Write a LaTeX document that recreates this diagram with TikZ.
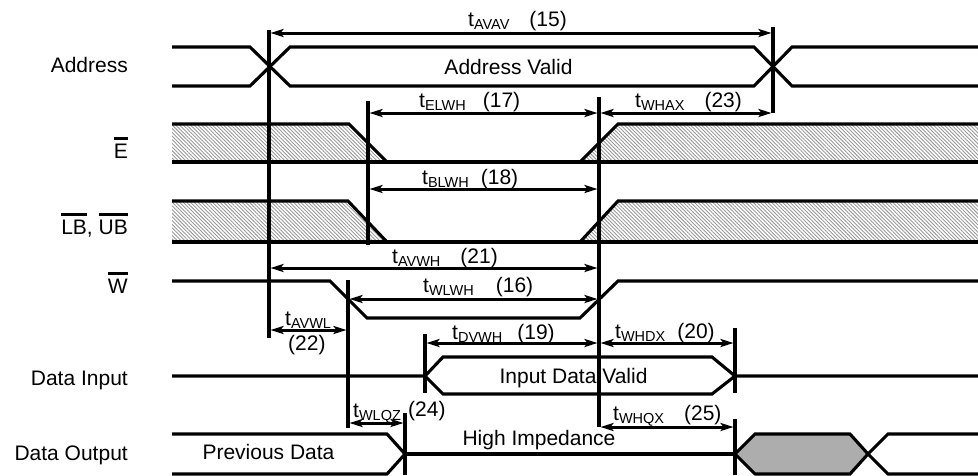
\documentclass[tikz,border=0pt]{standalone}
\usepackage{fontspec}
\setmainfont{Liberation Sans}
\usetikzlibrary{arrows.meta,patterns.meta}
\newcommand{\tsub}[1]{t\raisebox{-3pt}{\fontsize{14.5}{14.5}\selectfont #1}}
\newcommand{\ovl}[1]{\leavevmode\vbox{\hrule height 2.8pt\kern 4pt\hbox{#1}}}
\begin{document}
\begin{tikzpicture}[x=1pt,y=-1pt,
  sig/.style={line width=3.1pt,line join=miter},
  vline/.style={line width=3.1pt},
  tip/.tip={Stealth[length=13pt,width=8pt,inset=3pt]},
  meas/.style={line width=3pt,{tip}-{tip},shorten <=1.5pt,shorten >=1.5pt},
  lab/.style={font=\fontsize{21}{25}\selectfont,inner sep=0pt,anchor=base west},
  ctext/.style={font=\fontsize{21}{25}\selectfont,inner sep=0pt,anchor=base},
  sname/.style={font=\fontsize{21}{25}\selectfont,inner sep=0pt,anchor=base east},
  hatch/.style={pattern={Lines[angle=-45,distance=2.6pt,line width=0.9pt]},pattern color=black!40},
  dots/.style={fill=black!32}]
\useasboundingbox (0,0) rectangle (978,475);

% key coordinates (vertical reference lines)
\coordinate (a1t) at (269,30);  \coordinate (a1b) at (269,338);
\coordinate (a2t) at (773,27);  \coordinate (a2b) at (773,113);
\coordinate (e1t) at (368,101); \coordinate (e1b) at (368,245);
\coordinate (wht) at (599,97);  \coordinate (whb) at (599,427);
\coordinate (wlt) at (348,280); \coordinate (wlb) at (348,428);
\coordinate (d1t) at (425,334); \coordinate (d1b) at (425,393);
\coordinate (d2t) at (735,328); \coordinate (d2b) at (735,393);
\coordinate (q1t) at (405,413); \coordinate (q1b) at (405,475);
\coordinate (q2t) at (735,419); \coordinate (q2b) at (735,475);

% signal names
\node[sname] (nA) at (128,72) {Address};
\node[sname] (nE) at (128,158) {\ovl{E}};
\node[sname] (nB) at (128,234) {\ovl{LB}, \ovl{UB}};
\node[sname] (nW) at (128,293) {\ovl{W}};
\node[sname] (nDI) at (128,385) {Data Input};
\node[sname] (nDO) at (128,460) {Data Output};

% Address
\draw[sig] (172,47) -- (250,47) -- (290,86) -- (754,86) -- (792,47) -- (978,47);
\draw[sig] (172,86) -- (250,86) -- (290,47) -- (754,47) -- (792,86) -- (978,86);
\node[ctext] (tAV) at (508.5,74) {Address Valid};

% E
\fill[hatch] (172,124) -- (349,124) -- (387,162) -- (172,162) -- cycle;
\fill[hatch] (580,162) -- (618,124) -- (978,124) -- (978,162) -- cycle;
\draw[sig] (172,124) -- (349,124) -- (387,162);
\draw[sig] (580,162) -- (618,124) -- (978,124);
\draw[sig] (172,162) -- (978,162);

% LB, UB
\fill[hatch] (172,201) -- (348,201) -- (387,242) -- (172,242) -- cycle;
\fill[hatch] (580,242) -- (618,201) -- (978,201) -- (978,242) -- cycle;
\draw[sig] (172,201) -- (348,201) -- (387,242);
\draw[sig] (580,242) -- (618,201) -- (978,201);
\draw[sig] (172,242) -- (978,242);

% W
\draw[sig] (172,281) -- (330,281) -- (367,318) -- (580,318) -- (618,281) -- (978,281);

% Data Input
\draw[sig] (172,376) -- (425,376) -- (443,357) -- (712,357) -- (735,376) -- (978,376);
\draw[sig] (425,376) -- (443,394) -- (712,394) -- (735,376);
\node[ctext] (tID) at (573.5,383) {Input Data Valid};

% Data Output
\draw[sig] (172,434) -- (387,434) -- (405,454) -- (387,474) -- (172,474);
\draw[sig] (405,454) -- (735,454);
\filldraw[sig,dots] (735,454) -- (755,434) -- (850,434) -- (868,454) -- (850,474) -- (755,474) -- cycle;
\draw[sig] (868,454) -- (888,434) -- (978,434);
\draw[sig] (868,454) -- (888,474) -- (978,474);
\node[ctext] (tPD) at (268.5,459) {Previous Data};
\node[ctext] (tHZ) at (539,445) {High Impedance};

% vertical reference lines
\draw[vline] (a1t) -- (a1b);
\draw[vline] (a2t) -- (a2b);
\draw[vline] (e1t) -- (e1b);
\draw[vline] (wht) -- (whb);
\draw[vline] (wlt) -- (wlb);
\draw[vline] (d1t) -- (d1b);
\draw[vline] (d2t) -- (d2b);
\draw[vline] (q1t) -- (q1b);
\draw[vline] (q2t) -- (q2b);

% measurement arrows
\draw[meas] (a1t |- 0,33) -- (a2t |- 0,33);
\draw[meas] (e1t |- 0,113) -- (wht |- 0,113);
\draw[meas] (wht |- 0,113) -- (a2t |- 0,113);
\draw[meas] (e1t |- 0,189) -- (wht |- 0,189);
\draw[meas] (a1t |- 0,268) -- (wht |- 0,268);
\draw[meas] (wlt |- 0,299) -- (wht |- 0,299);
\draw[meas] (a1t |- 0,330) -- (wlt |- 0,330);
\draw[meas] (d1t |- 0,343) -- (wht |- 0,343);
\draw[meas] (wht |- 0,343) -- (d2t |- 0,343);
\draw[meas] (wlt |- 0,423) -- (q1t |- 0,423);
\draw[meas] (wht |- 0,427) -- (q2t |- 0,427);

% timing labels
\node[lab] (l15) at (468,26) {\tsub{AVAV}\hspace{20pt}(15)};
\node[lab] (l17) at (419,107) {\tsub{ELWH}\hspace{17pt}(17)};
\node[lab] (l23) at (635,107) {\tsub{WHAX}\hspace{20pt}(23)};
\node[lab] (l18) at (422,184) {\tsub{BLWH}\hspace{12pt}(18)};
\node[lab] (l21) at (392,263) {\tsub{AVWH}\hspace{20pt}(21)};
\node[lab] (l16) at (423,292) {\tsub{WLWH}\hspace{22pt}(16)};
\node[lab] (l22a) at (285,325) {\tsub{AVWL}};
\node[lab] (l22b) at (288,350) {(22)};
\node[lab] (l19) at (452,339) {\tsub{DVWH}\hspace{15pt}(19)};
\node[lab] (l20) at (615,338) {\tsub{WHDX}\hspace{12pt}(20)};
\node[lab] (l24a) at (353,417) {\tsub{WLQZ}};
\node[lab] (l24b) at (408,416) {(24)};
\node[lab] (l25) at (613,420) {\tsub{WHQX}\hspace{20pt}(25)};
\end{tikzpicture}
\end{document}
